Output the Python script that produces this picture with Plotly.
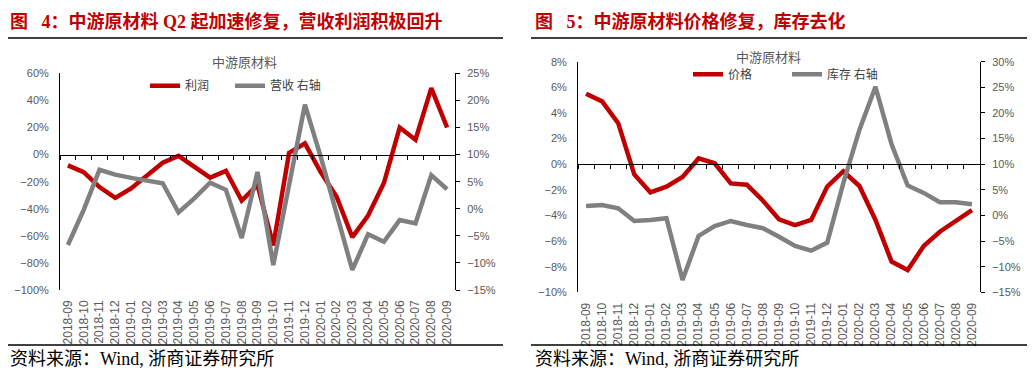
import plotly.graph_objects as go

W, H = 1036, 376

months = ["2018-09", "2018-10", "2018-11", "2018-12", "2019-01", "2019-02", "2019-03",
          "2019-04", "2019-05", "2019-06", "2019-07", "2019-08", "2019-09", "2019-10",
          "2019-11", "2019-12", "2020-01", "2020-02", "2020-03", "2020-04", "2020-05",
          "2020-06", "2020-07", "2020-08", "2020-09"]

# Figure 4 (left): profit (left axis, %), revenue (right axis, %)
profit = [-8, -13, -24, -32, -25, -16, -6, -1, -9, -17, -12, -34, -22.5, -67,
          1.2, 8.3, -13, -31, -61, -45, -21, 20, 11, 49, 20]
revenue = [-6.7, -0.2, 7.2, 6.3, 5.7, 5.3, 4.7, -0.7, 1.9, 4.8, 3.5, -5.4, 6.8, -10.4,
           4.6, 19.2, 9.6, -0.8, -11.3, -4.7, -6.1, -2.1, -2.7, 6.2, 3.6]

# Figure 5 (right): price (left axis, %), inventory (right axis, %)
price = [5.5, 4.9, 3.2, -0.8, -2.2, -1.75, -1.0, 0.45, 0.07, -1.5, -1.6, -2.85, -4.3,
         -4.75, -4.35, -1.75, -0.55, -1.7, -4.35, -7.6, -8.26, -6.39, -5.27, -4.43, -3.58]
inventory = [1.84, 2.04, 1.39, -1.08, -0.89, -0.56, -12.6, -4.0, -2.06, -1.08, -1.86,
             -2.5, -4.15, -5.96, -6.88, -5.3, 6.3, 16.7, 25.1, 13.9, 5.85, 4.4, 2.56,
             2.56, 2.17]

titles = ["图\u2002 4：中游原材料 Q2 起加速修复，营收利润积极回升",
          "图\u2002 5：中游原材料价格修复，库存去化"]
subtitle = "中游原材料"
source = "资料来源：Wind, 浙商证券研究所"
names_left = ["利润", "营收 右轴"]
names_right = ["价格", "库存 右轴"]

RED = "#C00000"
GREY = "#808080"
TICK = "#595959"
CJK = "Noto Sans CJK SC"
NUM = "Liberation Sans Narrow, Liberation Sans, Arial"

# layout geometry (pixels)
L_dom_x = [60 / W, 455 / W]
L_dom_y = [1 - 290 / H, 1 - 73.3 / H]
R_dom_x = [578 / W, 980 / W]
R_dom_y = [1 - 292.3 / H, 1 - 61.7 / H]
L_range = [-100, 60]
L_range2 = [-15, 25]
R_range = [-10, 8]
R_range2 = [-15, 30]


def zero_pos(dom, rng):
    frac = (0 - rng[0]) / (rng[1] - rng[0])
    return dom[0] + frac * (dom[1] - dom[0])


fig = go.Figure()
fig.add_trace(go.Scatter(x=months, y=profit, name=names_left[0], mode="lines",
                         line=dict(color=RED, width=4.5), xaxis="x", yaxis="y",
                         legend="legend"))
fig.add_trace(go.Scatter(x=months, y=revenue, name=names_left[1], mode="lines",
                         line=dict(color=GREY, width=4.5), xaxis="x2", yaxis="y2",
                         legend="legend2"))
fig.add_trace(go.Scatter(x=months, y=price, name=names_right[0], mode="lines",
                         line=dict(color=RED, width=4.5), xaxis="x3", yaxis="y3",
                         legend="legend3"))
fig.add_trace(go.Scatter(x=months, y=inventory, name=names_right[1], mode="lines",
                         line=dict(color=GREY, width=4.5), xaxis="x4", yaxis="y4",
                         legend="legend4"))

xlab = dict(type="category", range=[-0.5, 24.5], showline=False, ticks="",
            showgrid=False, zeroline=False, tickangle=-90, automargin=False,
            tickfont=dict(family="Liberation Sans, Arial", size=12, color=TICK),
            ticklabelstandoff=7)
xzero = dict(type="category", range=[-0.5, 24.5], showline=True, linecolor="black",
             linewidth=1, ticks="outside", tickson="boundaries", ticklen=4,
             tickcolor="black", tickwidth=1, showticklabels=False, showgrid=False,
             zeroline=False, anchor="free", automargin=False)
yleft = dict(showline=True, linecolor="black", linewidth=1, ticks="", showgrid=False,
             zeroline=False, ticksuffix="%", automargin=False,
             tickfont=dict(family=NUM, size=11, color=TICK), ticklabelstandoff=8)
yright = dict(showline=True, linecolor="black", linewidth=1, ticks="outside",
              ticklen=4, tickcolor="black", showgrid=False, zeroline=False,
              ticksuffix="%", side="right", automargin=False,
              tickfont=dict(family=NUM, size=11, color=TICK), ticklabelstandoff=5)


def leg(xpx, ypx):
    return dict(orientation="h", x=xpx / W, y=1 - ypx / H, xanchor="left",
                yanchor="middle", bgcolor="rgba(0,0,0,0)",
                font=dict(family=CJK, size=12, color="#404040"))


fig.update_layout(
    width=W, height=H, margin=dict(l=0, r=0, t=0, b=0, autoexpand=False),
    paper_bgcolor="white", plot_bgcolor="rgba(0,0,0,0)",
    xaxis=dict(domain=L_dom_x, anchor="y", **xlab),
    xaxis2=dict(overlaying="x", position=zero_pos(L_dom_y, L_range), **xzero),
    yaxis=dict(domain=L_dom_y, anchor="x", range=L_range, dtick=20, **yleft),
    yaxis2=dict(overlaying="y", anchor="x", range=L_range2, dtick=5, **yright),
    xaxis3=dict(domain=R_dom_x, anchor="y3", **xlab),
    xaxis4=dict(overlaying="x3", position=zero_pos(R_dom_y, R_range), **xzero),
    yaxis3=dict(domain=R_dom_y, anchor="x3", range=R_range, dtick=2, **yleft),
    yaxis4=dict(overlaying="y3", anchor="x3", range=R_range2, dtick=5, **yright),
    legend=leg(145, 85.7),
    legend2=leg(230, 85.7),
    legend3=leg(688, 74.3),
    legend4=leg(787, 74.3),
    showlegend=True,
)

ann = []
for x0, t in [(8, titles[0]), (533, titles[1])]:
    ann.append(dict(text=t, x=x0 / W, y=1 - 21.5 / H, xref="paper", yref="paper",
                    xanchor="left", yanchor="middle", showarrow=False,
                    font=dict(family="Liberation Serif, " + CJK, size=18, color=RED,
                              weight="bold")))
for xc, yc in [(244, 61), (768, 56)]:
    ann.append(dict(text=subtitle, x=xc / W, y=1 - yc / H, xref="paper", yref="paper",
                    xanchor="center", yanchor="middle", showarrow=False,
                    font=dict(family=CJK, size=13, color=TICK)))
for x0 in [8, 533]:
    ann.append(dict(text=source, x=x0 / W, y=1 - 359 / H, xref="paper", yref="paper",
                    xanchor="left", yanchor="middle", showarrow=False,
                    font=dict(family="Liberation Serif, " + CJK, size=18, color="black")))
fig.update_layout(annotations=ann)

shapes = []
for xa, xb in [(8, 503), (531, 1027)]:
    for yy in [38, 345]:
        shapes.append(dict(type="line", xref="paper", yref="paper", x0=xa / W, x1=xb / W,
                           y0=1 - yy / H, y1=1 - yy / H,
                           line=dict(color="black", width=1.5)))
fig.update_layout(shapes=shapes)

fig.write_html("out.html", config={"displayModeBar": False},
               post_script="document.body.style.margin='0';document.body.style.padding='0';"
                           "document.body.style.overflow='hidden';")
